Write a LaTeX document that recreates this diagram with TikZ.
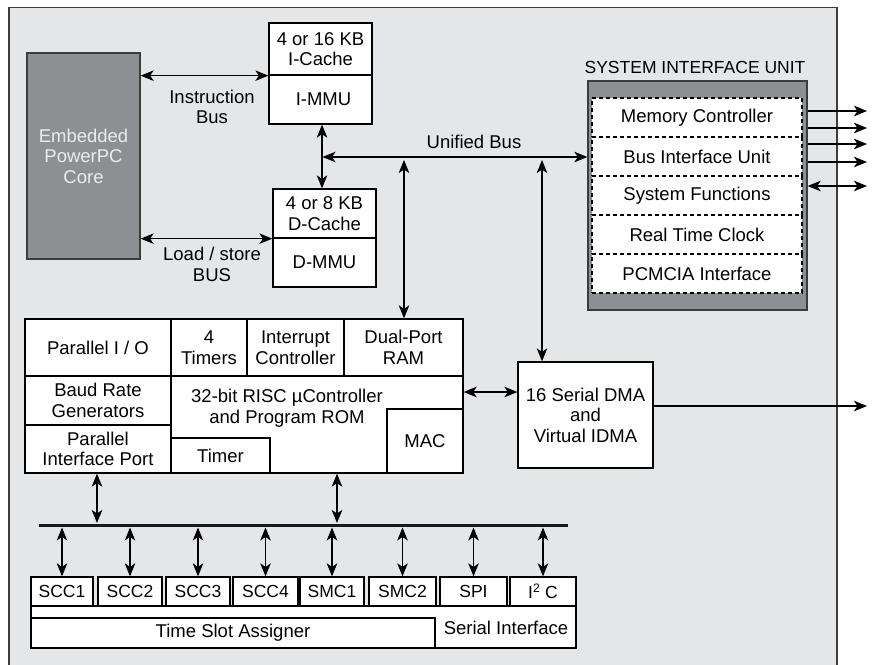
\documentclass[tikz,border=0pt]{standalone}
\usepackage{fontspec}
\setmainfont{Liberation Sans}
\usetikzlibrary{arrows.meta}
\definecolor{bg}{HTML}{E5E6E8}
\definecolor{coregray}{HTML}{8E8F93}
\definecolor{edge}{HTML}{3C3C3C}
\definecolor{coretext}{HTML}{ECECEC}
\newcommand\myfs{\fontsize{18.5}{20.5}\selectfont}
\newcommand\mysmfs{\fontsize{17.5}{19}\selectfont}
\begin{document}
\begin{tikzpicture}[x=1pt,y=-1pt,
  >={Stealth[length=13pt,width=10.5pt,inset=3.5pt]},
  box/.style={draw=black, line width=1.3pt, fill=white, inner sep=0pt, align=center, font=\myfs},
  dbox/.style={draw=black, line width=1.2pt, dash pattern=on 4pt off 3pt, fill=white, inner sep=0pt, align=center, font=\myfs, minimum width=210, minimum height=39},
  sbox/.style={box, font=\mysmfs, minimum height=29},
  lbl/.style={inner sep=0pt, align=center, font=\myfs},
  dbl/.style={<->, line width=1.3pt},
  sgl/.style={->, line width=1.3pt},
  busline/.style={line width=3pt, draw=black!90}]
\useasboundingbox (0,0) rectangle (874,664);
\fill[white] (0,0) rectangle (874,664);
% outer chip area
\path[fill=bg, draw=edge, line width=1.3pt] (9,7.5) rectangle (837,680);

% core
\node[box, fill=coregray, draw=edge, text=coretext, minimum width=113, minimum height=206] (core) at (83.5,156) {Embedded\\PowerPC\\Core};

% caches
\node[box, minimum width=103, minimum height=52] (icache) at (320.5,49) {4 or 16 KB\\I-Cache};
\node[box, minimum width=103, minimum height=49] (immu) at (320.5,99.5) {\hspace*{6pt}I-MMU};
\node[box, minimum width=103, minimum height=49] (dcache) at (324.5,213.5) {4 or 8 KB\\D-Cache};
\node[box, minimum width=103, minimum height=49] (dmmu) at (324.5,262.5) {D-MMU};

\node[lbl] (ibus) at (212,107) {Instruction\\Bus};
\node[lbl] (lsbus) at (212,264.5) {Load / store\\BUS};
\node[lbl] (ubus) at (474,142) {Unified Bus};

% system interface unit
\node[lbl, font=\mysmfs] (siutitle) at (695,67) {SYSTEM INTERFACE UNIT};
\node[draw=edge, fill=coregray, line width=1.3pt, minimum width=219, minimum height=229, inner sep=0pt] (siug) at (697.5,195.5) {};
\node[dbox] (memc) at (697,117.5) {Memory Controller};
\node[dbox] (biu) at (697,156.5) {Bus Interface Unit};
\node[dbox] (sysf) at (697,195.5) {System Functions};
\node[dbox] (rtc) at (697,234.5) {Real Time Clock};
\node[dbox] (pcm) at (697,273.5) {PCMCIA Interface};

% CPM block
\node[box, minimum width=146, minimum height=57] (pio) at (98,347.5) {Parallel I / O};
\node[box, minimum width=76, minimum height=57] (tim4) at (209,347.5) {4\\Timers};
\node[box, minimum width=97, minimum height=57] (intc) at (295.5,347.5) {Interrupt\\Controller};
\node[box, minimum width=119, minimum height=57] (dpram) at (403.5,347.5) {Dual-Port\\RAM};
\node[box, minimum width=146, minimum height=49] (brg) at (98,400.5) {Baud Rate\\Generators};
\node[box, minimum width=146, minimum height=48] (pip) at (98,449) {Parallel\\Interface Port};
\node[box, minimum width=292, minimum height=97] (risc) at (317,424.5) {};
\node[lbl] (risctxt) at (287,408) {32-bit RISC µController\\and Program ROM};
\node[box, minimum width=99, minimum height=35] (timer) at (220.5,455.5) {Timer};
\node[box, minimum width=76, minimum height=64] (mac) at (425,441) {MAC};

% DMA
\node[box, minimum width=135, minimum height=106] (dma) at (585.5,415) {16 Serial DMA\\and\\Virtual IDMA};

% serial interface
\node[box, minimum width=545, minimum height=42] (sif) at (303.5,627) {};
\node[box, minimum width=404, minimum height=30] (tsa) at (233,633) {Time Slot Assigner};
\node[lbl] (siftxt) at (506,628) {Serial Interface};
\node[sbox, minimum width=62] (scc1) at (62,591.5) {SCC1};
\node[sbox, minimum width=64] (scc2) at (130,591.5) {SCC2};
\node[sbox, minimum width=64] (scc3) at (198,591.5) {SCC3};
\node[sbox, minimum width=65] (scc4) at (265.5,591.5) {SCC4};
\node[sbox, minimum width=64] (smc1) at (332,591.5) {SMC1};
\node[sbox, minimum width=67] (smc2) at (402.5,591.5) {SMC2};
\node[sbox, minimum width=67] (spi) at (473.5,591.5) {SPI};
\node[sbox, minimum width=66] (i2c) at (543,591.5) {I\textsuperscript{2} C};

% coordinates for free ends
\coordinate (ub) at (322.5,157);
\coordinate (ub1) at (404,160);
\coordinate (ub2) at (542,160);
\coordinate (o1) at (867,111);
\coordinate (o2) at (867,128);
\coordinate (o3) at (867,144);
\coordinate (o4) at (867,162);
\coordinate (o5) at (867,186);
\coordinate (o6) at (867,406);
\coordinate (busL) at (39,525);
\coordinate (busR) at (568,525);
\coordinate (t1) at (97,523);
\coordinate (t2) at (337,523);
\coordinate (bd) at (0,527.5);

% connectors
\draw[dbl] (core.east |- icache.south) -- (icache.south west);
\draw[dbl] (core.east |- dcache.south) -- (dcache.south west);
\draw[dbl] ([xshift=1.5pt]immu.south) -- ([xshift=-2.5pt]dcache.north);
\draw[dbl] (ub) -- (siug.west |- ub);
\draw[dbl] (ub1) -- (dpram.north -| ub1);
\draw[dbl] (ub2) -- (dma.north -| ub2);
\draw[sgl] (siug.east |- o1) -- (o1);
\draw[sgl] (siug.east |- o2) -- (o2);
\draw[sgl] (siug.east |- o3) -- (o3);
\draw[sgl] (siug.east |- o4) -- (o4);
\draw[dbl] (siug.east |- o5) -- (o5);
\draw[dbl] (risc.east |- 0,392) -- (dma.west |- 0,392);
\draw[sgl] (dma.east |- o6) -- (o6);

\draw[busline] (busL) -- (busR);
\draw[dbl] (pip.south -| t1) -- (t1);
\draw[dbl] (risc.south -| t2) -- (t2);
\foreach \b in {scc1,scc2,scc3,scc4,smc1,smc2,spi,i2c}
  \draw[dbl] (\b.north |- bd) -- (\b.north);
\end{tikzpicture}
\end{document}
